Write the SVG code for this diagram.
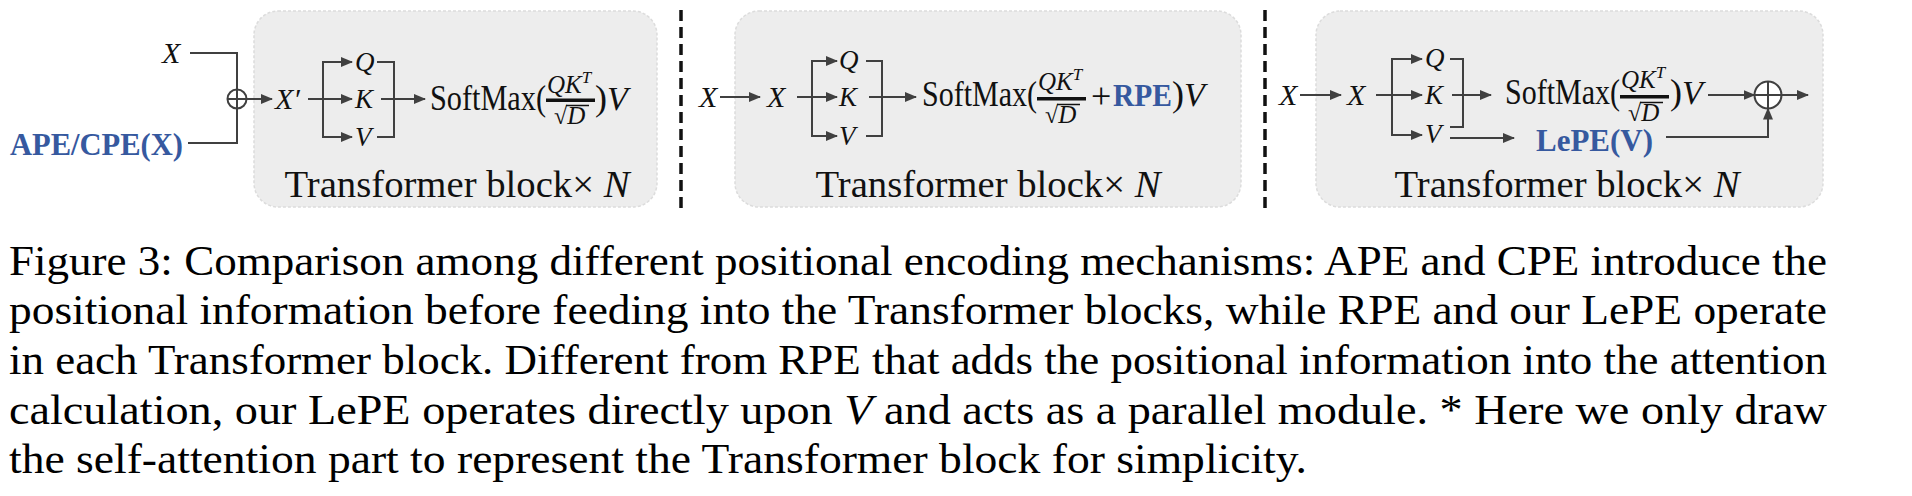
<svg xmlns="http://www.w3.org/2000/svg" width="1912" height="496" viewBox="0 0 1912 496">
<defs>
<marker id="ah" markerUnits="userSpaceOnUse" markerWidth="12" markerHeight="10" refX="11" refY="5" orient="auto"><path d="M0,0 L12,5 L0,10 z" fill="#404040"/></marker>
<style>
.box{fill:#ededed;stroke:#dcdcdc;stroke-width:1.5;stroke-dasharray:3 2}
.ln{fill:none;stroke:#404040;stroke-width:2}
.ar{fill:none;stroke:#404040;stroke-width:2;marker-end:url(#ah)}
.dash{stroke:#111;stroke-width:3.5;stroke-dasharray:11 6}
.m{font-family:"Liberation Serif","DejaVu Serif",serif;font-style:italic;font-size:30px;fill:#111}
.q{font-family:"Liberation Serif","DejaVu Serif",serif;font-style:italic;font-size:27px;fill:#111}
.mr{font-family:"Liberation Serif","DejaVu Serif",serif;font-size:36px;fill:#111}
.mv{font-family:"Liberation Serif","DejaVu Serif",serif;font-style:italic;font-size:34px}
.num{font-family:"Liberation Serif","DejaVu Serif",serif;font-style:italic;font-size:25px;fill:#111}
.sup{font-size:17px}
.rad{font-family:"Liberation Serif","DejaVu Serif",serif;font-size:24px;fill:#111}
.ov{stroke:#111;stroke-width:1.5}
.tb{font-family:"Liberation Serif","Times New Roman",serif;font-size:38px;fill:#111}
.blue{font-family:"Liberation Serif","Times New Roman",serif;font-weight:bold;font-size:32px;fill:#36599f}
.cap{font-family:"Liberation Serif","Times New Roman",serif;font-size:42px;fill:#000}
.circ{fill:#fff;stroke:#404040;stroke-width:2}
</style>
</defs>

<g id="separators">
<line class="dash" x1="681" y1="10" x2="681" y2="208"/>
<line class="dash" x1="1265" y1="10" x2="1265" y2="208"/>
</g>

<g id="block-ape">
<rect class="box" x="254" y="11" width="403" height="196" rx="24"/>
<text class="tb" x="457" y="197" text-anchor="middle" textLength="345" lengthAdjust="spacingAndGlyphs">Transformer block× <tspan font-style="italic">N</tspan></text>
</g>
<g id="block-rpe">
<rect class="box" x="735" y="11" width="506" height="196" rx="24"/>
<text class="tb" x="988" y="197" text-anchor="middle" textLength="345" lengthAdjust="spacingAndGlyphs">Transformer block× <tspan font-style="italic">N</tspan></text>
</g>
<g id="block-lepe">
<rect class="box" x="1316" y="11" width="507" height="196" rx="24"/>
<text class="tb" x="1567" y="197" text-anchor="middle" textLength="345" lengthAdjust="spacingAndGlyphs">Transformer block× <tspan font-style="italic">N</tspan></text>
</g>

<g id="nodes-ape">
<text class="m" x="162" y="63">X</text>
<text class="blue" x="10" y="155" textLength="173" lengthAdjust="spacingAndGlyphs">APE/CPE(X)</text>
<circle class="circ" cx="237" cy="99" r="9.5"/>
<text class="m" x="275" y="109">X′</text>
<text class="q" x="355" y="71">Q</text>
<text class="q" x="355" y="108">K</text>
<text class="q" x="355" y="146">V</text>
<text class="mr" x="430" y="110" textLength="116" lengthAdjust="spacingAndGlyphs">SoftMax(</text>
<text class="num" x="547" y="93">QK<tspan class="sup" dy="-10">T</tspan></text>
<rect x="546" y="98.5" width="49" height="3.5" fill="#111"/>
<text class="rad" x="554" y="124">√<tspan class="num">D</tspan></text>
<line class="ov" x1="566" y1="105.5" x2="589" y2="105.5"/>
<text class="mr" x="595" y="110">)<tspan class="mv">V</tspan></text>
</g>

<g id="nodes-rpe">
<text class="m" x="699" y="107">X</text>
<text class="m" x="767" y="107">X</text>
<text class="q" x="839" y="69">Q</text>
<text class="q" x="839" y="106">K</text>
<text class="q" x="839" y="145">V</text>
<text class="mr" x="922" y="106" textLength="115" lengthAdjust="spacingAndGlyphs">SoftMax(</text>
<text class="num" x="1038" y="90">QK<tspan class="sup" dy="-10">T</tspan></text>
<rect x="1037" y="97" width="49" height="3.5" fill="#111"/>
<text class="rad" x="1045" y="123">√<tspan class="num">D</tspan></text>
<line class="ov" x1="1057" y1="104.5" x2="1080" y2="104.5"/>
<text class="mr" x="1091" y="108">+</text>
<text class="blue" x="1113" y="106" textLength="59" lengthAdjust="spacingAndGlyphs">RPE</text>
<text class="mr" x="1172" y="106">)<tspan class="mv">V</tspan></text>
</g>

<g id="nodes-lepe">
<text class="m" x="1279" y="105">X</text>
<text class="m" x="1347" y="105">X</text>
<text class="q" x="1425" y="67">Q</text>
<text class="q" x="1425" y="104">K</text>
<text class="q" x="1425" y="143">V</text>
<text class="mr" x="1505" y="104" textLength="115" lengthAdjust="spacingAndGlyphs">SoftMax(</text>
<text class="num" x="1621" y="88">QK<tspan class="sup" dy="-10">T</tspan></text>
<rect x="1620" y="95" width="49" height="3.5" fill="#111"/>
<text class="rad" x="1628" y="121">√<tspan class="num">D</tspan></text>
<line class="ov" x1="1640" y1="102.5" x2="1663" y2="102.5"/>
<text class="mr" x="1670" y="104">)<tspan class="mv">V</tspan></text>
<text class="blue" x="1536" y="151" textLength="117" lengthAdjust="spacingAndGlyphs">LePE(V)</text>
<circle class="circ" cx="1768" cy="95" r="13.5"/>
</g>

<g id="connectors">
<path class="ln" d="M190,53 H237 V143 H188"/>
<path class="ln" d="M227.5,99 H247"/>
<path class="ar" d="M246,99 H272"/>
<path class="ar" d="M308,99 H352"/>
<path class="ln" d="M323,62 V137"/>
<path class="ar" d="M322,62 H352"/>
<path class="ar" d="M322,137 H352"/>
<path class="ln" d="M377,62 H394 V137 H377"/>
<path class="ar" d="M381,99 H425"/>

<path class="ar" d="M720,97 H760"/>
<path class="ar" d="M797,97 H837"/>
<path class="ln" d="M812,61 V136"/>
<path class="ar" d="M811,61 H837"/>
<path class="ar" d="M811,136 H837"/>
<path class="ln" d="M866,61 H882 V136 H866"/>
<path class="ar" d="M869,97 H916"/>

<path class="ar" d="M1300,95 H1341"/>
<path class="ar" d="M1376,95 H1422"/>
<path class="ln" d="M1392,59 V135"/>
<path class="ar" d="M1391,59 H1422"/>
<path class="ar" d="M1391,135 H1422"/>
<path class="ln" d="M1450,59 H1463 V127 H1450"/>
<path class="ar" d="M1452,95 H1491"/>
<path class="ar" d="M1708,95 H1754.5"/>
<path class="ln" d="M1754.5,95 H1781.5 M1768,81.5 V108.5"/>
<path class="ar" d="M1781.5,95 H1808"/>
<path class="ar" d="M1450,138 H1514"/>
<path class="ar" d="M1666,137 H1768 V108.5"/>
</g>

<g id="caption">
<text class="cap" x="9" y="275" textLength="1818" lengthAdjust="spacingAndGlyphs">Figure 3: Comparison among different positional encoding mechanisms: APE and CPE introduce the</text>
<text class="cap" x="9" y="324" textLength="1818" lengthAdjust="spacingAndGlyphs">positional information before feeding into the Transformer blocks, while RPE and our LePE operate</text>
<text class="cap" x="9" y="374" textLength="1818" lengthAdjust="spacingAndGlyphs">in each Transformer block. Different from RPE that adds the positional information into the attention</text>
<text class="cap" x="9" y="424" textLength="1818" lengthAdjust="spacingAndGlyphs">calculation, our LePE operates directly upon <tspan font-style="italic">V</tspan> and acts as a parallel module. * Here we only draw</text>
<text class="cap" x="9" y="473" textLength="1298" lengthAdjust="spacingAndGlyphs">the self-attention part to represent the Transformer block for simplicity.</text>
</g>
</svg>
